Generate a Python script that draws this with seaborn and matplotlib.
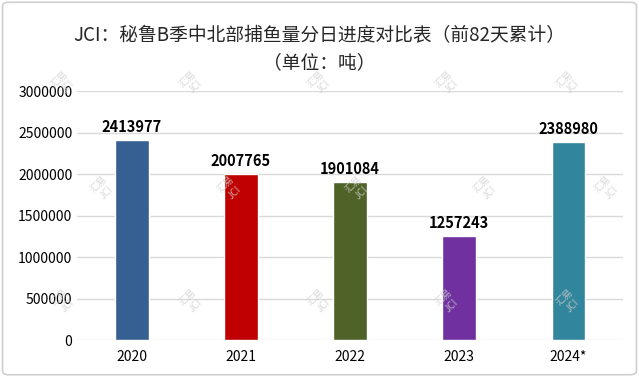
import pandas as pd
import matplotlib.pyplot as plt
import seaborn as sns
from matplotlib.patches import FancyBboxPatch

years = ["2020", "2021", "2022", "2023", "2024*"]
catch = [2413977, 2007765, 1901084, 1257243, 2388980]
colors = ["#376092", "#C00000", "#4F6228", "#7030A0", "#31859C"]

df = pd.DataFrame({"year": years, "catch": catch})

sns.set_theme(style="white")
plt.rcParams["font.family"] = ["Noto Sans CJK SC", "DejaVu Sans"]

fig = plt.figure(figsize=(6.39, 3.77), dpi=100)
ax = fig.add_axes([0.121, 0.098, 0.854, 0.66])

sns.barplot(data=df, x="year", y="catch", hue="year", palette=colors,
            saturation=1, width=0.31, legend=False, ax=ax, zorder=3)

for i, v in enumerate(catch):
    ax.text(i, v + 60000, f"{v}", ha="center", va="bottom",
            fontsize=10.5, fontweight="bold", color="black")

ax.set_ylim(0, 3000000)
ax.set_yticks(range(0, 3000001, 500000))
ax.set_yticklabels([str(t) for t in range(0, 3000001, 500000)])
ax.yaxis.grid(True, color="#D9D9D9", linewidth=1, zorder=0)
for s in ax.spines.values():
    s.set_visible(False)
ax.tick_params(axis="both", length=0, labelsize=10, colors="black")
ax.tick_params(axis="x", pad=7)
ax.set_xlabel("")
ax.set_ylabel("")

fig.text(0.5, 0.905, "JCI：秘鲁B季中北部捕鱼量分日进度对比表（前82天累计）",
         ha="center", va="center", fontsize=13.5)
fig.text(0.5, 0.835, "（单位：吨）", ha="center", va="center", fontsize=13.5)

# faint watermarks
for yy in [0.78, 0.50, 0.20]:
    for xx in [0.10, 0.30, 0.50, 0.70, 0.89]:
        off = 0.06 if yy == 0.50 else 0.0
        fig.text(xx + off, yy, "汇易\nJCI", rotation=45, ha="center", va="center",
                 fontsize=7, color="#D0D0D0", alpha=0.8, zorder=0)

border = FancyBboxPatch((0.004, 0.006), 0.992, 0.988, boxstyle="round,pad=0,rounding_size=0.01",
                        transform=fig.transFigure, fill=False, edgecolor="#D0D0D0", linewidth=1.2)
fig.patches.append(border)

fig.savefig("out.png", dpi=100)
